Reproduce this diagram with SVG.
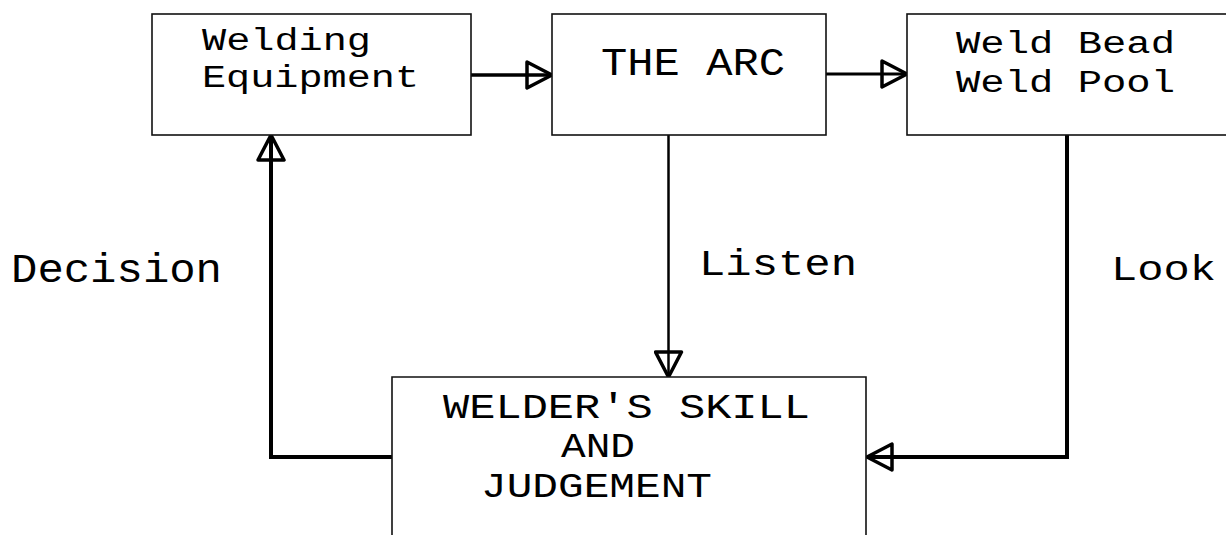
<svg xmlns="http://www.w3.org/2000/svg" width="1226" height="535" viewBox="0 0 1226 535">
  <style>
    .box { fill: #fff; stroke: #111; stroke-width: 1.6; }
    .t { font-family: "Liberation Mono", "Courier New", monospace; fill: #000; }
    .conn { fill: none; stroke: #000; stroke-linejoin: miter; }
  </style>
  <defs>
    <marker id="tri" viewBox="0 0 30 30" refX="28" refY="15" markerWidth="30" markerHeight="30" markerUnits="userSpaceOnUse" orient="auto">
      <path d="M3,2 L28,15 L3,28 Z" fill="none" stroke="#000" stroke-width="3.5" stroke-linejoin="round"/>
    </marker>
  </defs>
  <rect width="1226" height="535" fill="#fff"/>

  <g id="connectors">
    <path class="conn" d="M471,75 H552" stroke-width="3.5" marker-end="url(#tri)"/>
    <path class="conn" d="M826,74 H907" stroke-width="3" marker-end="url(#tri)"/>
    <path class="conn" d="M668.5,135 V377" stroke-width="2.5" marker-end="url(#tri)"/>
    <path class="conn" d="M1067,135 V457 H867" stroke-width="4" marker-end="url(#tri)"/>
    <path class="conn" d="M392,457 H271 V135" stroke-width="4" marker-end="url(#tri)"/>
  </g>

  <g id="welding-equipment">
    <rect class="box" x="152" y="14" width="319" height="121"/>
    <text class="t" x="202" y="50" font-size="31" textLength="169" lengthAdjust="spacingAndGlyphs">Welding</text>
    <text class="t" x="202" y="87" font-size="31" textLength="217" lengthAdjust="spacingAndGlyphs">Equipment</text>
  </g>

  <g id="the-arc">
    <rect class="box" x="552" y="14" width="274" height="121"/>
    <text class="t" x="601" y="75" font-size="38" textLength="184" lengthAdjust="spacingAndGlyphs">THE ARC</text>
  </g>

  <g id="weld-bead">
    <rect class="box" x="907" y="14" width="330" height="121"/>
    <text class="t" x="956" y="53" font-size="31" textLength="219" lengthAdjust="spacingAndGlyphs">Weld Bead</text>
    <text class="t" x="956" y="92" font-size="31" textLength="219" lengthAdjust="spacingAndGlyphs">Weld Pool</text>
  </g>

  <g id="welders-skill">
    <path class="box" d="M392,545 V377 H866 V545"/>
    <text class="t" x="443" y="418" font-size="35" textLength="367" lengthAdjust="spacingAndGlyphs">WELDER'S SKILL</text>
    <text class="t" x="561" y="457" font-size="35" textLength="74" lengthAdjust="spacingAndGlyphs">AND</text>
    <text class="t" x="481" y="497" font-size="35" textLength="231" lengthAdjust="spacingAndGlyphs">JUDGEMENT</text>
  </g>

  <g id="labels">
    <text class="t" x="11" y="282" font-size="40" textLength="211" lengthAdjust="spacingAndGlyphs">Decision</text>
    <text class="t" x="699" y="275" font-size="36" textLength="158" lengthAdjust="spacingAndGlyphs">Listen</text>
    <text class="t" x="1111" y="280" font-size="35" textLength="105" lengthAdjust="spacingAndGlyphs">Look</text>
  </g>
</svg>
